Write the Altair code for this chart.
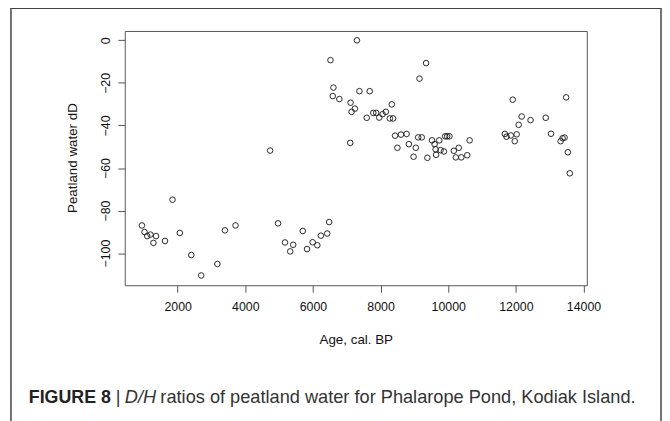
import altair as alt
import pandas as pd

# ---- data ----
ages = [943, 1020, 1100, 1196, 1284, 1362, 1626, 1848, 2064, 2404, 2696, 3175, 3398, 3711,
        4734, 4968, 5173, 5327, 5416, 5699, 5825, 5991, 6129, 6234, 6421, 6479,
        6518, 6585, 6605, 6781, 7102, 7112, 7141, 7240, 7300, 7374, 7590, 7678, 7784, 7871,
        7959, 8058, 8155, 8272, 8330, 8368, 8427, 8497, 8602, 8769, 8836, 8974, 9041, 9111,
        9149, 9216, 9345, 9383, 9520, 9597, 9626, 9640, 9734, 9772, 9871, 9909, 9968, 10035,
        10164, 10222, 10310, 10386, 10561, 10632, 11673, 11722, 11848, 11906, 11965, 12023,
        12082, 12170, 12433, 12883, 13038, 13322, 13380, 13439, 13485, 13535, 13594]
dD = [-87.0, -90.1, -92.0, -91.3, -95.2, -92.0, -94.3, -74.9, -90.5, -100.9, -110.5, -105.1, -89.3, -87.0,
      -51.8, -86.0, -95.0, -99.2, -96.1, -89.6, -98.1, -94.9, -96.3, -91.8, -90.8, -85.4,
      -9.3, -26.2, -22.2, -27.6, -48.2, -29.3, -33.6, -32.1, 0.0, -23.9, -36.4, -23.9, -34.1, -34.1,
      -36.3, -34.7, -33.6, -36.7, -30.1, -36.7, -44.8, -50.5, -44.3, -44.0, -48.8, -54.7, -50.5, -45.6,
      -18.0, -45.6, -10.7, -55.2, -47.0, -48.8, -51.2, -53.8, -47.0, -51.6, -52.2, -45.1, -45.1, -45.1,
      -51.9, -55.0, -50.5, -55.0, -54.0, -47.0, -44.0, -45.3, -44.7, -27.9, -47.4, -44.2,
      -39.7, -35.8, -37.5, -36.4, -43.9, -47.4, -46.0, -45.7, -26.8, -52.6, -62.5]
x_ticks = [2000, 4000, 6000, 8000, 10000, 12000, 14000]
y_ticks = [0, -20, -40, -60, -80, -100]
x_title = "Age, cal. BP"
y_title = "Peatland water dD"
caption_parts = ["FIGURE 8", "|", "D/H", "ratios of peatland water for Phalarope Pond, Kodiak Island."]

df = pd.DataFrame({"age": ages, "dD": dD})

FONT = "Liberation Sans"
W, H = 467, 257          # plot area
PAD_L, PAD_T = 118, 21
TOTAL_W, TOTAL_H = 661, 414

points = alt.Chart(df).mark_point(
    shape="circle", filled=False, size=32, color="#111", strokeWidth=0.9, opacity=1
).encode(
    x=alt.X("age:Q",
            scale=alt.Scale(domain=[436, 14096], nice=False, zero=False),
            axis=alt.Axis(values=x_ticks, format="d", title=x_title,
                          labelPadding=9, titleY=55, titleBaseline="middle")),
    y=alt.Y("dD:Q",
            scale=alt.Scale(domain=[-115.1, 4.4], nice=False, zero=False),
            axis=alt.Axis(values=y_ticks, format="d", title=y_title,
                          labelAngle=270, labelAlign="center", labelBaseline="bottom",
                          labelPadding=5,
                          titleX=-53, titleY=128, titleAngle=270,
                          titleAlign="center", titleBaseline="middle")),
)

one = pd.DataFrame({"k": [0]})

frame = alt.Chart(one).mark_rect(fill=None, stroke="#444", strokeWidth=1.5).encode(
    x=alt.value(11 - 126), x2=alt.value(668 - 126),
    y=alt.value(6 - 29), y2=alt.value(460 - 29),
)

CAP_Y = 405 - 29


def cap(i, x, size, weight="normal", style="normal", color="#333"):
    return alt.Chart(pd.DataFrame({"t": [caption_parts[i]]})).mark_text(
        font=FONT, fontSize=size, fontWeight=weight, fontStyle=style,
        align="left", baseline="alphabetic", color=color
    ).encode(text="t:N", x=alt.value(x - 126), y=alt.value(CAP_Y))


caption = (cap(0, 29, 18, weight="bold", color="#222") + cap(1, 117, 18.4)
           + cap(2, 126, 18.4, style="italic") + cap(3, 162, 18.4))

chart = alt.layer(frame, points, caption).properties(
    width=W, height=H,
    padding={"left": PAD_L, "top": PAD_T, "right": TOTAL_W - PAD_L - W, "bottom": TOTAL_H - PAD_T - H},
    autosize=alt.AutoSizeParams(type="none"),
).configure_view(
    stroke="#555", strokeWidth=1
).configure_axis(
    domain=False, grid=False, tickColor="#555", tickSize=7, tickWidth=1,
    labelFont=FONT, labelFontSize=12.5, labelColor="#111",
    titleFont=FONT, titleFontSize=13.5, titleColor="#111", titleFontWeight="normal",
)

chart.save("out.html", embed_options={"renderer": "svg", "actions": False})
